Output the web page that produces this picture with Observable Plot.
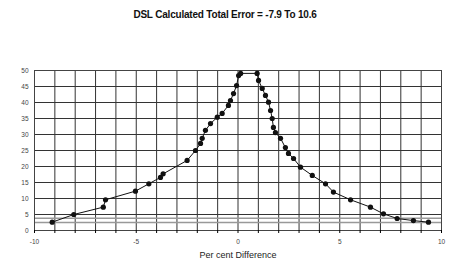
<!DOCTYPE html>
<html>
<head>
<meta charset="utf-8">
<script src="https://cdn.jsdelivr.net/npm/d3@7"></script>
<script src="https://cdn.jsdelivr.net/npm/@observablehq/plot@0.6"></script>
<style>
  body { margin: 0; background: #fff; font-family: "Liberation Sans", Arial, sans-serif; }
  #title { width: 450px; height: 30px; line-height: 30px; text-align: center; font-weight: bold; font-size: 10px; color: #111; letter-spacing: -0.2px; }
</style>
</head>
<body>
<div id="title">DSL Calculated Total Error = -7.9 To 10.6</div>
<div id="chart"></div>
<script>
const titleText = "DSL Calculated Total Error = -7.9 To 10.6";
const xLabel = "Per cent Difference";
const xTicks = [-10, -5, 0, 5, 10];
const xGrid = [-10, -9, -8, -7, -6, -5, -4, -3, -2, -1, 0, 1, 2, 3, 4, 5, 6, 7, 8, 9, 10];
const yTicks = [0, 5, 10, 15, 20, 25, 30, 35, 40, 45, 50];
const limitLines = [2.5, 3.8];
const diffX = [-9.13, -8.07, -6.62, -6.51, -5.04, -4.38, -3.81, -3.68, -2.50, -2.09, -1.84, -1.76, -1.60, -1.35, -1.02, -0.78, -0.47, -0.37, -0.22, -0.07, 0.03, 0.13,
               0.94, 1.01, 1.19, 1.35, 1.50, 1.60, 1.68, 1.74, 1.84, 2.09, 2.33, 2.48, 2.73, 3.07, 3.65, 4.30, 4.69, 5.53, 6.51, 7.15, 7.82, 8.62, 9.36];
const pctY  = [2.6, 5.0, 7.3, 9.6, 12.3, 14.6, 16.6, 17.7, 21.9, 25.0, 27.2, 28.8, 31.3, 33.4, 35.4, 36.6, 39.1, 40.6, 42.8, 45.3, 48.4, 49.1,
               49.1, 46.9, 44.4, 42.2, 40.1, 37.5, 35.0, 32.2, 30.6, 28.8, 25.9, 24.1, 22.5, 19.8, 17.2, 14.6, 12.0, 9.6, 7.3, 5.2, 3.75, 3.1, 2.6];
const data = diffX.map((x, i) => ({x, y: pctY[i]}));

const chart = Plot.plot({
  width: 450,
  height: 235,
  marginTop: 40,
  marginBottom: 35,
  marginLeft: 34,
  marginRight: 9,
  style: {fontFamily: "Liberation Sans, Arial, sans-serif", background: "#fff"},
  x: {domain: [-10, 10]},
  y: {domain: [0, 50]},
  marks: [
    Plot.gridX(xGrid, {stroke: "#333", strokeOpacity: 1, strokeWidth: 1}),
    Plot.gridY(yTicks, {stroke: "#333", strokeOpacity: 1, strokeWidth: 1}),
    Plot.ruleY(limitLines, {stroke: "#999", strokeWidth: 1.5}),
    Plot.frame({stroke: "#444"}),
    Plot.line(data, {x: "x", y: "y", stroke: "#111", strokeWidth: 1}),
    Plot.dot(data, {x: "x", y: "y", r: 2.6, fill: "#111", stroke: "none"}),
    Plot.axisX(xGrid, {tickSize: 3, tickFormat: d => xTicks.includes(d) ? String(d) : "", fontSize: 6.5, fill: "#444", tickPadding: 6, label: null}),
    Plot.axisY(yTicks, {tickSize: 0, tickPadding: 6, fontSize: 6.5, fill: "#444", label: null}),
    Plot.text([xLabel], {frameAnchor: "bottom", dy: 27, fontSize: 9, fill: "#222", text: d => d})
  ]
});
document.getElementById("chart").appendChild(chart);
</script>
</body>
</html>
